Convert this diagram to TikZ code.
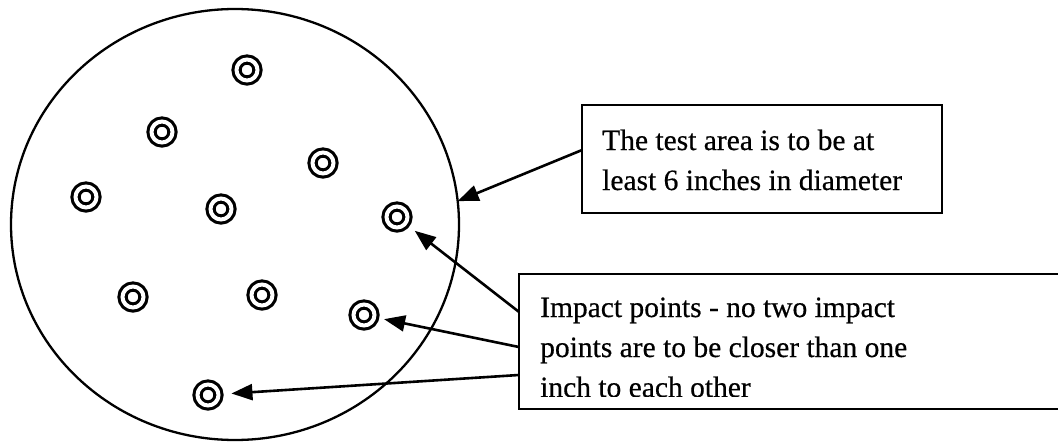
\documentclass[tikz,border=0pt]{standalone}
\usepackage{fontspec}
\setmainfont{Liberation Serif}
\newfontfamily\scanfont{Liberation Serif}[FakeBold=0.5]
\usetikzlibrary{arrows.meta,shapes.geometric,calc}
\begin{document}
\begin{tikzpicture}[x=1pt,y=-1pt,
  ring/.style={circle,draw,line width=3.1pt,double,double distance=4pt,minimum size=21pt,inner sep=0pt,outer sep=0pt},
  boxframe/.style={draw,line width=2.6pt,inner sep=0pt,outer sep=0pt,anchor=north west},
  txt/.style={anchor=base west,inner sep=0pt,font=\scanfont\fontsize{29.5}{40}\selectfont},
  pointer/.style={line width=2.6pt,-{Triangle[length=21pt,width=16pt]}}]
\useasboundingbox (0,0) rectangle (1058,442);
% test area
\node[ellipse,draw,line width=2.3pt,minimum width=448pt,minimum height=431pt,inner sep=0pt,outer sep=0pt] (area) at (235,224.5) {};
% impact points
\node[ring] (r1) at (247,70) {};
\node[ring] (r2) at (162,132) {};
\node[ring] (r3) at (323,163) {};
\node[ring] (r4) at (86,197) {};
\node[ring] (r5) at (221,209) {};
\node[ring] (r6) at (397,217) {};
\node[ring] (r7) at (133,297) {};
\node[ring] (r8) at (262,295) {};
\node[ring] (r9) at (364,315) {};
\node[ring] (r10) at (208,395) {};
% box 1
\node[boxframe,minimum width=360pt,minimum height=108pt] (box1) at (582,105) {};
\node[txt] (t1a) at (602,150) {The test area is to be at};
\node[txt] (t1b) at (602,190) {least 6 inches in diameter};
% box 2
\node[boxframe,minimum width=551pt,minimum height=135pt] (box2) at (519,274) {};
\node[txt] (t2a) at (540,317) {Impact points - no two impact};
\node[txt] (t2b) at (540,357) {points are to be closer than one};
\begin{scope}
\clip (530,360) rectangle (1000,396);
\node[txt] (t2c) at (540,397) {inch to each other};
\end{scope}
% arrows
\draw[pointer] ($(box1.north west)!0.417!(box1.south west)$) -- (area.6);
\draw[pointer,shorten >=12pt] ($(box2.north west)!0.281!(box2.south west)$) -- (r6);
\draw[pointer,shorten >=10pt] ($(box2.north west)!0.541!(box2.south west)$) -- (r9);
\draw[pointer,shorten >=13pt] ($(box2.north west)!0.748!(box2.south west)$) -- (r10);
\end{tikzpicture}
\end{document}
